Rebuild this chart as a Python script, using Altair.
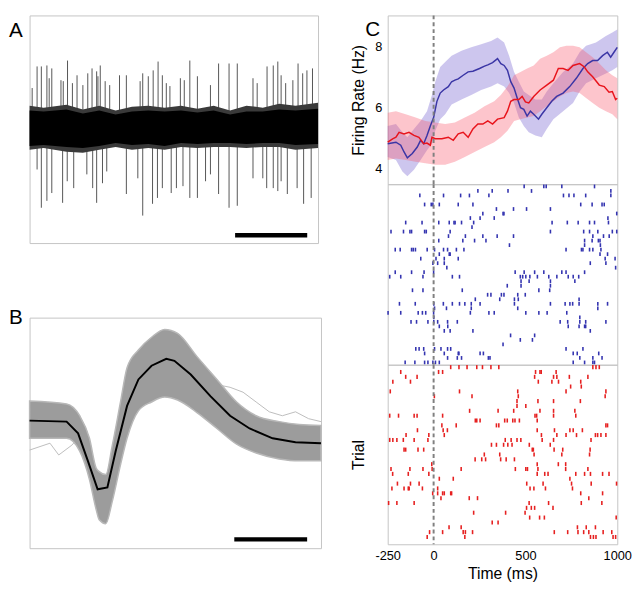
import altair as alt
import pandas as pd

FONT = "Liberation Sans"
FRAME = "#c4c4c4"
BLUE = "#3a35a5"
RED = "#e8141c"

# ---------------- Panel A : raw trace (time in s, amplitude in uV) ----------------
a_env_t = [0.0, 0.195, 0.512, 0.739, 0.966, 1.193, 1.420, 1.646, 1.873, 2.100,
           2.327, 2.553, 2.780, 3.007, 3.234, 3.460, 3.687, 4.0]
a_outer_hi = [24, 22, 25, 20, 24, 19, 23, 24, 22, 24, 21, 24, 19, 24, 22, 26, 24, 27]
a_outer_lo = [-21, -19, -23, -24, -21, -18, -21, -19, -21, -18, -19, -18, -18, -19, -18, -18, -21, -19]
a_core_hi = [19, 18, 20, 16, 19, 15, 18, 19, 18, 19, 17, 19, 15, 18, 18, 20, 19, 21]
a_core_lo = [-17, -16, -18, -19, -17, -14, -16, -15, -17, -14, -15, -14, -14, -15, -14, -14, -16, -15]

a_up_t = [0.036, 0.104, 0.163, 0.240, 0.272, 0.308, 0.435, 0.467, 0.526, 0.594,
          0.658, 0.739, 0.807, 0.866, 0.930, 0.948, 0.980, 1.048, 1.111, 1.247,
          1.342, 1.533, 1.569, 1.646, 1.714, 1.782, 1.841, 1.896, 1.946, 2.091,
          2.145, 2.222, 2.327, 2.508, 2.621, 2.766, 2.880, 3.098, 3.156, 3.293,
          3.379, 3.442, 3.488, 3.551, 3.651, 3.723, 3.787, 3.846, 3.923]
a_up_v = [42, 64, 64, 65, 52, 62, 50, 49, 70, 47, 55, 45, 57, 62, 59, 54, 65, 49, 45, 55,
          55, 49, 57, 54, 60, 69, 55, 47, 44, 52, 50, 70, 54, 45, 67, 67, 67, 52, 47, 64,
          65, 69, 55, 47, 50, 67, 57, 60, 62]
a_dn_t = [0.104, 0.163, 0.240, 0.308, 0.458, 0.522, 0.612, 0.794, 0.875, 0.930,
          1.011, 1.070, 1.342, 1.501, 1.569, 1.705, 1.773, 1.841, 1.964, 2.036,
          2.127, 2.222, 2.327, 2.440, 2.508, 2.621, 2.766, 2.880, 3.098, 3.234,
          3.288, 3.379, 3.442, 3.488, 3.574, 3.710, 3.800, 3.905]
a_dn_v = [-41, -80, -73, -65, -75, -53, -60, -46, -60, -75, -55, -43, -66, -50, -88, -76, -70, -60, -65, -60,
          -58, -70, -70, -53, -46, -66, -80, -78, -50, -50, -60, -60, -63, -53, -66, -60, -76, -70]
a_bar_x = [2.85, 3.85]
a_bar_y = -108

# ---------------- Panel B : spike waveforms (time in ms, amplitude in uV) ----------------
b_t = [0.0, 0.254, 0.344, 0.411, 0.456, 0.478, 0.523, 0.568, 0.624, 0.669, 0.747,
       0.837, 0.927, 1.016, 1.151, 1.286, 1.421, 1.555, 1.713, 1.85, 2.0]
b_hi = [20, 17, 5, -18, -48, -52, -55, -25, 19, 54, 72, 85, 93, 89, 65, 42, 19, 5, -1, -4, -5]
b_lo = [-18, -18, -31, -60, -90, -101, -105, -82, -45, -18, 10, 19, 24, 21, 8, -8, -24, -33, -39, -41, -41]
b_mean_t = [0.0, 0.254, 0.333, 0.400, 0.467, 0.534, 0.591, 0.669, 0.747, 0.837,
            0.938, 0.994, 1.106, 1.241, 1.376, 1.510, 1.668, 1.825, 2.0]
b_mean_v = [0, -1, -13, -41, -70, -68, -31, 15, 42, 56, 63, 61, 47, 25, 5, -8, -18, -22, -23]
b_out1_t = [1.241, 1.376, 1.465, 1.555, 1.645, 1.735, 1.825, 1.915, 2.0]
b_out1_v = [38, 34, 29, 19, 9, 5, 9, 2, -1]
b_out2_t = [0.0, 0.14, 0.20, 0.29, 0.35, 0.40]
b_out2_v = [-30, -23, -35, -25, -15, -30]
b_bar_x = [1.405, 1.905]
b_bar_y = -121

# ---------------- Panel C : firing rate (Hz) ----------------
c_blue_t = [-250, -205, -179, -161, -143, -116, -89, -71, -54, -36, -18, 0, 18, 36, 54, 80, 98, 116, 134, 161,
            188, 214, 250, 277, 295, 321, 348, 366, 384, 402, 420, 438, 455, 473, 491, 509, 527, 545, 571, 589,
            616, 643, 670, 705, 741, 777, 813, 839, 866, 893, 920, 946, 964, 982, 1000]
c_blue_rate = [4.82, 4.87, 4.77, 4.55, 4.36, 4.50, 4.71, 4.93, 4.82, 5.09, 5.40, 5.67, 6.20, 6.47, 6.57, 6.68,
               6.84, 6.89, 6.93, 7.05, 7.16, 7.18, 7.27, 7.35, 7.39, 7.46, 7.59, 7.43, 7.37, 7.21, 6.84, 6.63,
               6.31, 5.99, 5.94, 5.72, 5.88, 5.78, 5.62, 5.78, 5.99, 6.20, 6.36, 6.47, 6.68, 6.95, 7.27, 7.43,
               7.53, 7.53, 7.69, 7.80, 7.64, 7.80, 7.96]
c_blue_band_t = [-250, -205, -170, -143, -107, -71, -36, -9, 9, 36, 63, 98, 152, 205, 259, 313, 348, 384,
                 411, 438, 464, 491, 518, 554, 589, 616, 652, 705, 759, 795, 830, 884, 938, 973, 1000]
c_blue_hi = [5.40, 5.46, 5.19, 5.03, 5.30, 5.56, 5.88, 6.41, 6.84, 7.32, 7.48, 7.69, 7.85, 7.96, 8.06, 8.17,
             8.28, 8.12, 7.69, 7.16, 6.84, 6.52, 6.41, 6.26, 6.26, 6.52, 6.79, 7.16, 7.43, 7.80, 8.01, 8.12,
             8.33, 8.44, 8.54]
c_blue_lo = [4.39, 4.29, 3.91, 3.76, 3.97, 4.29, 4.61, 4.82, 5.24, 5.62, 5.78, 6.10, 6.26, 6.41, 6.57, 6.68,
             6.79, 6.68, 6.47, 6.15, 5.67, 5.40, 5.19, 5.09, 5.03, 5.30, 5.62, 5.88, 6.15, 6.52, 6.79, 6.95,
             7.11, 7.21, 7.32]
c_red_t = [-250, -223, -205, -188, -161, -134, -107, -80, -54, -36, -18, -9, 9, 45, 80, 107, 134, 161, 188, 214,
           241, 268, 295, 321, 348, 384, 402, 420, 438, 464, 482, 500, 518, 545, 580, 616, 652, 679, 705, 732,
           759, 795, 821, 839, 866, 902, 929, 955, 973, 991, 1000]
c_red_rate = [4.87, 4.98, 5.03, 5.19, 5.14, 5.19, 5.09, 5.03, 4.82, 4.84, 4.77, 5.03, 4.98, 4.98, 5.03, 4.93,
              5.14, 5.19, 5.03, 5.30, 5.46, 5.46, 5.56, 5.46, 5.62, 5.67, 5.88, 6.20, 6.26, 6.26, 6.36, 6.18,
              6.15, 6.36, 6.57, 6.73, 6.89, 7.27, 7.27, 7.21, 7.37, 7.43, 7.32, 7.16, 7.00, 6.73, 6.68, 6.50,
              6.52, 6.26, 6.30]
c_red_band_t = [-250, -205, -152, -98, -45, 9, 63, 116, 170, 223, 277, 330, 366, 402, 438, 473, 509, 545,
                580, 616, 652, 688, 723, 759, 795, 830, 866, 902, 938, 973, 1000]
c_red_hi = [5.83, 5.88, 5.78, 5.67, 5.56, 5.51, 5.46, 5.51, 5.67, 5.83, 6.04, 6.20, 6.41, 6.68, 7.05, 7.16,
            7.27, 7.37, 7.59, 7.69, 7.80, 7.96, 8.01, 8.01, 7.96, 7.80, 7.64, 7.43, 7.21, 7.05, 6.95]
c_red_lo = [4.29, 4.34, 4.29, 4.23, 4.18, 4.13, 4.13, 4.23, 4.39, 4.55, 4.71, 4.87, 5.03, 5.24, 5.56, 5.62,
            5.67, 5.72, 5.88, 6.04, 6.20, 6.36, 6.47, 6.52, 6.47, 6.31, 6.15, 5.99, 5.88, 5.78, 5.62]
rate_ticks = [4, 6, 8]
time_ticks = [-250, 0, 500, 1000]
stim_time = [0]

# ---------------- Panel C : rasters (spike times in ms, one list per trial) ----------------
blue_trials = [
    [493, 600, 613, 698, 876],
    [241, 319, 405, 533, 965],
    [-75, 54, 147, 195, 301, 707, 737, 764, 828, 965],
    [],
    [-49, -13, -4, 31, 134, 214, 801, 863, 917, 929],
    [342, 435, 506, 636],
    [268, 378, 383, 997],
    [200, 253, 330, 949],
    [-152, -63, 28, 85, 111, 117, 152, 218, 645, 728, 787, 849, 876, 952],
    [209],
    [-232, -164, -129, -120, -49, -40, 90, 636, 817, 849, 894, 973, 997],
    [81, 173, 268, 346, 435, 867, 925, 956],
    [28, 159, 223, 285, 822, 863, 897, 906],
    [413, 822, 908],
    [-209, -182, -120, -111, -99, -35, 5, 54, 76, 124, 165, 721, 805, 813, 849, 867, 911],
    [31, 85, 90, 906, 947],
    [-70, 13, 58, 134, 934, 988],
    [-4, 22, 58, 853, 938],
    [72, 991],
    [-209, -120, -52, 0, 444, 493, 550, 600, 698, 721, 822],
    [-239, -179, -58, 102, 141, 472, 485, 502, 524, 565, 627, 671, 733, 760, 790],
    [476, 520, 636, 769],
    [401, 476, 636],
    [-115, -58, 156, 573, 632],
    [294, 312, 369, 383, 458, 499],
    [227, 360, 440, 461, 792],
    [-186, -100, 1, 53, 102, 141, 170, 205, 253, 440, 636, 716, 742, 757, 792, 894, 947],
    [5, 70, 205, 458, 894],
    [-248, -179, -84, -61, -43, 0, 200, 301, 330, 502, 573, 618, 725],
    [1, 796],
    [-123, -93, -31, 1, 22, 76, 129, 689, 730, 796, 828, 938],
    [31, 77, 733, 792, 822, 828],
    [58, 90, 214, 853],
    [419, 550],
    [472, 538],
    [378],
    [-97, -79, -54, 5, 40, 76, 93, 721, 813],
    [-49, 58, 134, 138, 253, 271, 760, 782, 899],
    [76, 129, 152, 298, 307, 796, 867, 917],
    [-155, -102, -49, -31, -4, 10, 31, 760, 822, 867, 876],
]
red_trials = [
    [93, 138, 182, 235, 266, 312, 355, 867, 884, 902],
    [-179, 27, 49, 555, 579, 586, 667],
    [-152, -90, 550, 653, 671, 739, 840],
    [-222, -126, 570, 644, 680, 801],
    [746, 804],
    [-236, 141, 458, 721, 938],
    [4, 209, 461, 934],
    [454, 568, 653, 799],
    [454, 502],
    [196, 351, 436, 579, 653, 769],
    [-239, -191, -106, -90, 49, 552, 561, 653, 774],
    [227, 235, 253, 387, 401, 431, 443, 467, 564],
    [45, 123, 342, 355, 938, 947],
    [-88, 52, 75, 564, 658, 742, 760, 810],
    [-150, -26, 58, 587, 671, 721, 778, 881, 893, 911, 938],
    [-239, -222, -200, -165, -106, -31, 390, 422, 454, 475, 591, 653, 857],
    [315, 342, 381, 404, 427, 521, 635],
    [-161, -152, -85, -54, 537, 543, 656, 703, 852],
    [276, 360, 547, 698, 849],
    [226, 262, 283, 365, 395, 440],
    [-10, 564, 679, 719],
    [-232, -129, -58, -8, 150, 445, 502, 511, 568, 719, 840],
    [-223, -138, -26, 564, 605, 623, 774, 822, 854, 920, 955],
    [31, 107, 742],
    [-197, -126, -79, 507, 596, 751, 858, 996],
    [-227, -161, -138, -133, -61, 22, 525, 546, 609, 756],
    [-5, 22, 49, 58, 93, 98, 801, 920],
    [40, 194, 239, 845],
    [-245, -200, -106, 520, 626, 804, 916],
    [506, 532, 550, 650],
    [218, 392, 498],
    [523, 577, 603, 994],
    [319, 351],
    [84, 150, 783, 831, 881],
    [-22, 49, 161, 173, 212, 657, 730, 786, 817, 845, 923, 970],
    [-35, 170, 854, 870, 884, 977, 991],
    [],
]

# =================================================================================
def panel_title(letter, dx, dy):
    return alt.TitleParams(letter, anchor="start", frame="group", dx=dx, dy=dy, offset=0,
                           baseline="top", fontSize=21, fontWeight="normal", font=FONT, color="black")

# ---- Panel A
xA = alt.Scale(domain=[0, 4], nice=False, zero=False)
yA = alt.Scale(domain=[-116, 116], nice=False, zero=False)
a_env = pd.DataFrame({"t": a_env_t, "ohi": a_outer_hi, "olo": a_outer_lo, "chi": a_core_hi, "clo": a_core_lo})
a_up = pd.DataFrame({"t": a_up_t, "v": a_up_v, "b": [0] * len(a_up_t)})
a_dn = pd.DataFrame({"t": a_dn_t, "v": a_dn_v, "b": [0] * len(a_dn_t)})
a_bar = pd.DataFrame({"x0": [a_bar_x[0]], "x1": [a_bar_x[1]], "y": [a_bar_y]})

A_up = alt.Chart(a_up).mark_rule(color="#555555", strokeWidth=1).encode(
    x=alt.X("t:Q", scale=xA, axis=None), y=alt.Y("v:Q", scale=yA, axis=None), y2="b:Q")
A_dn = alt.Chart(a_dn).mark_rule(color="#555555", strokeWidth=1).encode(
    x=alt.X("t:Q", scale=xA, axis=None), y=alt.Y("v:Q", scale=yA, axis=None), y2="b:Q")
A_outer = alt.Chart(a_env).mark_area(color="#3a3a3a").encode(
    x=alt.X("t:Q", scale=xA, axis=None), y=alt.Y("ohi:Q", scale=yA, axis=None), y2="olo:Q")
A_core = alt.Chart(a_env).mark_area(color="#000000").encode(
    x=alt.X("t:Q", scale=xA, axis=None), y=alt.Y("chi:Q", scale=yA, axis=None), y2="clo:Q")
A_bar = alt.Chart(a_bar).mark_rule(color="black", strokeWidth=4.5).encode(
    x=alt.X("x0:Q", scale=xA, axis=None), x2="x1:Q", y=alt.Y("y:Q", scale=yA, axis=None))
panelA = alt.layer(A_up, A_dn, A_outer, A_core, A_bar).properties(
    width=294, height=232, title=panel_title("A", -21, 26))

# ---- Panel B
xB = alt.Scale(domain=[0, 2], nice=False, zero=False)
yB = alt.Scale(domain=[-130, 105], nice=False, zero=False)
b_band = pd.DataFrame({"t": b_t, "hi": b_hi, "lo": b_lo})
b_mean = pd.DataFrame({"t": b_mean_t, "v": b_mean_v})
b_o1 = pd.DataFrame({"t": b_out1_t, "v": b_out1_v})
b_o2 = pd.DataFrame({"t": b_out2_t, "v": b_out2_v})
b_bar = pd.DataFrame({"x0": [b_bar_x[0]], "x1": [b_bar_x[1]], "y": [b_bar_y]})

B_o1 = alt.Chart(b_o1).mark_line(color="#bdbdbd", strokeWidth=1).encode(
    x=alt.X("t:Q", scale=xB, axis=None), y=alt.Y("v:Q", scale=yB, axis=None))
B_o2 = alt.Chart(b_o2).mark_line(color="#bdbdbd", strokeWidth=1).encode(
    x=alt.X("t:Q", scale=xB, axis=None), y=alt.Y("v:Q", scale=yB, axis=None))
B_band = alt.Chart(b_band).mark_area(color="#9c9c9c", stroke="#b8b8b8", strokeWidth=1.5,
                                     interpolate="monotone").encode(
    x=alt.X("t:Q", scale=xB, axis=None), y=alt.Y("hi:Q", scale=yB, axis=None), y2="lo:Q")
B_mean = alt.Chart(b_mean).mark_line(color="black", strokeWidth=2).encode(
    x=alt.X("t:Q", scale=xB, axis=None), y=alt.Y("v:Q", scale=yB, axis=None))
B_bar = alt.Chart(b_bar).mark_rule(color="black", strokeWidth=4.5).encode(
    x=alt.X("x0:Q", scale=xB, axis=None), x2="x1:Q", y=alt.Y("y:Q", scale=yB, axis=None))
panelB = alt.layer(B_o1, B_o2, B_band, B_mean, B_bar).properties(
    width=297, height=235, title=panel_title("B", -21, 10))

# ---- Panel C rate
xC = alt.Scale(domain=[-250, 1000], nice=False, zero=False)
yR = alt.Scale(domain=[3.5, 9], nice=False, zero=False)
stim = pd.DataFrame({"t": stim_time})
blue_line = pd.DataFrame({"t": c_blue_t, "r": c_blue_rate})
red_line = pd.DataFrame({"t": c_red_t, "r": c_red_rate})
blue_band = pd.DataFrame({"t": c_blue_band_t, "hi": c_blue_hi, "lo": c_blue_lo})
red_band = pd.DataFrame({"t": c_red_band_t, "hi": c_red_hi, "lo": c_red_lo})

rate_axis = alt.Axis(values=rate_ticks, labelFontSize=13, labelPadding=6, title="Firing Rate (Hz)",
                     titleFontSize=16, titlePadding=8)
R_bband = alt.Chart(blue_band).mark_area(color="#705cce", opacity=0.35).encode(
    x=alt.X("t:Q", scale=xC, axis=None), y=alt.Y("hi:Q", scale=yR, axis=rate_axis), y2="lo:Q")
R_rband = alt.Chart(red_band).mark_area(color="#f9596d", opacity=0.35).encode(
    x=alt.X("t:Q", scale=xC, axis=None), y=alt.Y("hi:Q", scale=yR), y2="lo:Q")
R_bline = alt.Chart(blue_line).mark_line(color=BLUE, strokeWidth=1.5).encode(
    x=alt.X("t:Q", scale=xC, axis=None), y=alt.Y("r:Q", scale=yR))
R_rline = alt.Chart(red_line).mark_line(color=RED, strokeWidth=1.5).encode(
    x=alt.X("t:Q", scale=xC, axis=None), y=alt.Y("r:Q", scale=yR))
R_stim = alt.Chart(stim).mark_rule(color="#808080", strokeWidth=2, strokeDash=[4, 3]).encode(
    x=alt.X("t:Q", scale=xC, axis=None))
panelRate = alt.layer(R_bband, R_rband, R_bline, R_rline, R_stim).properties(
    width=234, height=172, title=panel_title("C", -23, 26))

# ---- Rasters
def raster_df(trials):
    rows = []
    for i, spikes in enumerate(trials):
        for s in spikes:
            rows.append({"t": s, "lo": i + 0.58, "hi": i + 1.42})
    return pd.DataFrame(rows)

blue_df = raster_df(blue_trials)
red_df = raster_df(red_trials)
yBlue = alt.Scale(domain=[0.5, len(blue_trials) + 0.5], reverse=True, nice=False, zero=False)
yRed = alt.Scale(domain=[0.5, len(red_trials) + 0.5], reverse=True, nice=False, zero=False)

Bl_ticks = alt.Chart(blue_df).mark_rule(color="#3434b0", strokeWidth=1.6).encode(
    x=alt.X("t:Q", scale=xC, axis=None), y=alt.Y("lo:Q", scale=yBlue, axis=None), y2="hi:Q")
Bl_stim = alt.Chart(stim).mark_rule(color="#808080", strokeWidth=2, strokeDash=[4, 3]).encode(
    x=alt.X("t:Q", scale=xC, axis=None))
panelBlue = alt.layer(Bl_ticks, Bl_stim).properties(width=234, height=184)

time_axis = alt.Axis(values=time_ticks, labelFontSize=13, labelPadding=6, labelExpr="'' + datum.value",
                     labelFlush=False, title="Time (ms)", titleFontSize=16, titlePadding=3)
trial_axis = alt.Axis(labels=False, title="Trial", titleFontSize=16, titlePadding=21.5, labelPadding=0)
Rd_ticks = alt.Chart(red_df).mark_rule(color="#e62020", strokeWidth=1.6).encode(
    x=alt.X("t:Q", scale=xC, axis=time_axis), y=alt.Y("lo:Q", scale=yRed, axis=trial_axis), y2="hi:Q")
Rd_stim = alt.Chart(stim).mark_rule(color="#808080", strokeWidth=2, strokeDash=[4, 3]).encode(
    x=alt.X("t:Q", scale=xC))
panelRed = alt.layer(Rd_ticks, Rd_stim).properties(width=234, height=183)

left = alt.vconcat(panelA, panelB, spacing=76, bounds="flush")
right = alt.vconcat(panelRate, panelBlue, panelRed, spacing=0, bounds="flush")
chart = alt.hconcat(left, right, spacing=25).properties(padding=0).configure(
    font=FONT
).configure_view(stroke=FRAME, strokeWidth=1).configure_axis(
    grid=False, domain=False, ticks=False, labelColor="black", titleColor="black",
    titleFontWeight="normal", labelFont=FONT, titleFont=FONT
)

chart.save("out.html", embed_options={"renderer": "svg", "actions": False})
